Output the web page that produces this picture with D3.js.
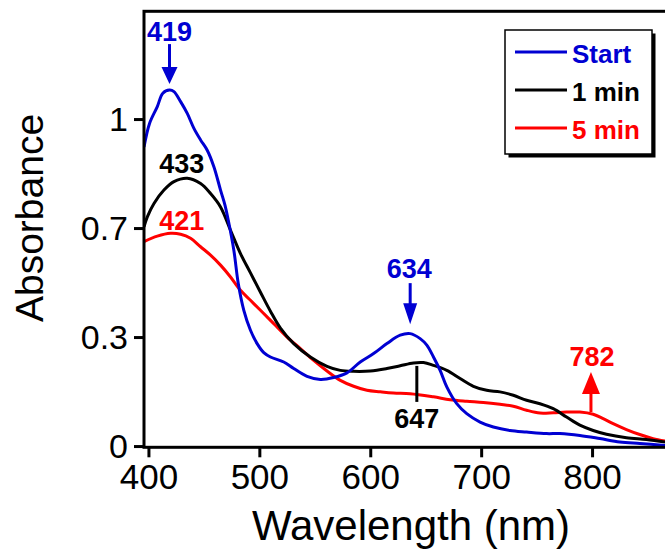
<!DOCTYPE html>
<html>
<head>
<meta charset="utf-8">
<script src="https://cdn.jsdelivr.net/npm/d3@7"></script>
<style>
  body { margin: 0; background: #fff; }
  svg { display: block; font-family: Arial, "Liberation Sans", sans-serif; }
</style>
</head>
<body>
<div id="chart"></div>
<script>
// series (wavelength in nm, absorbance)
var startWl  = [396,401,408,413,419,423,429,435,441,447,453,459,465,469,472,477,481,486,492,498,504,510,522,531,543,555,567,579,591,603,615,627,636,645,651,657,663,669,678,687,699,711,726,741,759,771,789,807,825,843,866];
var startAbs = [0.96,1.036,1.09,1.133,1.143,1.138,1.106,1.068,1.02,0.983,0.95,0.897,0.822,0.774,0.725,0.629,0.522,0.436,0.372,0.329,0.3,0.286,0.27,0.249,0.224,0.214,0.22,0.235,0.27,0.297,0.329,0.356,0.361,0.345,0.324,0.286,0.243,0.19,0.136,0.104,0.077,0.061,0.05,0.045,0.04,0.04,0.034,0.024,0.013,0.008,0.002];

var oneWl  = [396,399,405,414,423,435,447,456,465,474,483,492,501,510,519,531,546,561,573,585,600,615,627,639,648,657,669,681,693,705,717,729,741,753,765,777,789,801,813,831,849,866];
var oneAbs = [0.704,0.736,0.779,0.822,0.849,0.86,0.843,0.811,0.768,0.693,0.618,0.556,0.494,0.433,0.379,0.329,0.286,0.256,0.243,0.24,0.241,0.249,0.258,0.267,0.268,0.259,0.243,0.217,0.192,0.179,0.174,0.163,0.147,0.136,0.12,0.093,0.067,0.05,0.038,0.027,0.021,0.013];

var fiveWl  = [396,408,420,429,438,447,456,465,474,483,492,501,513,525,537,549,561,573,585,597,609,621,636,657,672,687,702,717,729,741,753,765,777,789,801,810,819,831,843,855,866];
var fiveAbs = [0.656,0.674,0.683,0.68,0.667,0.64,0.613,0.581,0.543,0.5,0.468,0.436,0.393,0.35,0.313,0.275,0.241,0.211,0.192,0.179,0.174,0.17,0.168,0.158,0.149,0.144,0.14,0.134,0.128,0.115,0.106,0.107,0.109,0.109,0.102,0.088,0.072,0.053,0.037,0.024,0.016];

var seriesNames = ["Start", "1 min", "5 min"];
var seriesColors = ["#0000d2", "#000000", "#ff0000"];

var xTicks = [400, 500, 600, 700, 800];
var yTicks = [0, 0.35, 0.7, 1.05];
var yTickLabels = ["0", "0.3", "0.7", "1"];

// peak labels: text, wavelength, absorbance at the mark
var peakText = ["419", "634", "647", "782", "433", "421"];
var peakWl   = [419, 636, 642, 799, 430, 430];
var peakAbs  = [1.143, 0.361, 0.267, 0.103, 0.86, 0.683];
var peakColor = ["#0000d2", "#0000d2", "#000000", "#ff0000", "#000000", "#ff0000"];

var width = 665, height = 550;
var plot = {left: 144, top: 11.3, right: 669.7, bottom: 447.3};

var x = d3.scaleLinear().domain([396, 870]).range([plot.left, plot.right]);
var y = d3.scaleLinear().domain([-0.004, 1.396]).range([plot.bottom, plot.top]);

var svg = d3.select("#chart").append("svg")
    .attr("width", width)
    .attr("height", height);

svg.append("defs").append("clipPath").attr("id", "clip")
  .append("rect")
    .attr("x", plot.left).attr("y", plot.top)
    .attr("width", plot.right - plot.left)
    .attr("height", plot.bottom - plot.top);

var series = [
  {name: seriesNames[0], color: seriesColors[0], wl: startWl, abs: startAbs},
  {name: seriesNames[1], color: seriesColors[1], wl: oneWl, abs: oneAbs},
  {name: seriesNames[2], color: seriesColors[2], wl: fiveWl, abs: fiveAbs}
];

var line = d3.line()
    .x(function(d) { return x(d[0]); })
    .y(function(d) { return y(d[1]); })
    .curve(d3.curveCatmullRom.alpha(0.5));

// curves, red first so blue ends up on top
var curves = svg.append("g").attr("clip-path", "url(#clip)");
series.slice().reverse().forEach(function(s) {
  curves.append("path")
      .datum(s.wl.map(function(w, i) { return [w, s.abs[i]]; }))
      .attr("fill", "none")
      .attr("stroke", s.color)
      .attr("stroke-width", 3)
      .attr("d", line);
});

// axes
var xAxis = svg.append("g")
    .attr("transform", "translate(0," + plot.bottom + ")")
    .call(d3.axisBottom(x).tickValues(xTicks).tickSize(10).tickPadding(7).tickFormat(d3.format("d")));
xAxis.select(".domain").remove();
xAxis.selectAll("line").attr("stroke-width", 3);
xAxis.selectAll("text").attr("font-size", 35).attr("fill", "#000");

var yAxis = svg.append("g")
    .attr("transform", "translate(" + plot.left + ",0)")
    .call(d3.axisLeft(y).tickValues(yTicks).tickSize(10).tickPadding(6)
      .tickFormat(function(d, i) { return yTickLabels[i]; }));
yAxis.select(".domain").remove();
yAxis.selectAll("line").attr("stroke-width", 3);
yAxis.selectAll("text").attr("font-size", 34).attr("dy", "0.34em").attr("fill", "#000");

// frame (right side falls outside the picture)
svg.append("rect")
    .attr("x", plot.left).attr("y", plot.top)
    .attr("width", plot.right - plot.left)
    .attr("height", plot.bottom - plot.top)
    .attr("fill", "none")
    .attr("stroke", "#000")
    .attr("stroke-width", 3);

// axis titles
svg.append("text")
    .attr("x", 411).attr("y", 540)
    .attr("text-anchor", "middle")
    .attr("font-size", 42)
    .text("Wavelength (nm)");

svg.append("text")
    .attr("transform", "translate(43,218) rotate(-90)")
    .attr("text-anchor", "middle")
    .attr("font-size", 39)
    .text("Absorbance");

// peak annotations
var ann = svg.append("g").attr("font-weight", "bold").attr("font-size", 27).attr("text-anchor", "middle");

function arrowDown(px, tip, len, head, hw, color) {
  ann.append("line")
      .attr("x1", px).attr("x2", px)
      .attr("y1", tip - len).attr("y2", tip - head + 1)
      .attr("stroke", color).attr("stroke-width", 3);
  ann.append("path")
      .attr("d", "M" + (px - hw) + "," + (tip - head) + "L" + (px + hw) + "," + (tip - head) + "L" + px + "," + tip + "Z")
      .attr("fill", color);
}

function arrowUp(px, tip, len, head, hw, color) {
  ann.append("line")
      .attr("x1", px).attr("x2", px)
      .attr("y1", tip + head - 1).attr("y2", tip + len)
      .attr("stroke", color).attr("stroke-width", 3);
  ann.append("path")
      .attr("d", "M" + (px - hw) + "," + (tip + head) + "L" + (px + hw) + "," + (tip + head) + "L" + px + "," + tip + "Z")
      .attr("fill", color);
}

peakText.forEach(function(t, i) {
  var px = x(peakWl[i]), py = y(peakAbs[i]), c = peakColor[i];
  var label = ann.append("text").attr("fill", c).text(t);
  if (t === "419") {
    arrowDown(px, py - 6, 40, 17, 8, c);
    label.attr("x", px).attr("y", py - 49);
  } else if (t === "634") {
    arrowDown(px, py - 9.5, 41, 21, 7, c);
    label.attr("x", px - 1).attr("y", py - 56);
  } else if (t === "647") {
    ann.append("line")
        .attr("x1", px).attr("x2", px)
        .attr("y1", py + 3).attr("y2", py + 39)
        .attr("stroke", c).attr("stroke-width", 3);
    label.attr("x", px).attr("y", py + 65.5);
  } else if (t === "782") {
    arrowUp(px, py - 42, 40, 22, 9, c);
    label.attr("x", px + 1).attr("y", py - 48);
  } else if (t === "433") {
    label.attr("x", px).attr("y", py - 5.5);
  } else {
    label.attr("x", px).attr("y", py - 3);
  }
});

// legend
var lg = svg.append("g").attr("transform", "translate(505,30)");
lg.append("rect")
    .attr("x", 3.5).attr("y", 3.5)
    .attr("width", 147).attr("height", 124)
    .attr("fill", "#000");
lg.append("rect")
    .attr("width", 147).attr("height", 124)
    .attr("fill", "#fff")
    .attr("stroke", "#000")
    .attr("stroke-width", 1.5);

var rows = lg.selectAll("g.row")
    .data(series)
    .enter().append("g")
    .attr("class", "row")
    .attr("transform", function(d, i) { return "translate(0," + (22 + i * 38) + ")"; });
rows.append("line")
    .attr("x1", 10).attr("x2", 62)
    .attr("stroke", function(d) { return d.color; })
    .attr("stroke-width", 3);
rows.append("text")
    .attr("x", 67).attr("y", 10.5)
    .attr("font-size", 26)
    .attr("font-weight", "bold")
    .attr("fill", function(d) { return d.color; })
    .text(function(d) { return d.name; });
</script>
</body>
</html>
